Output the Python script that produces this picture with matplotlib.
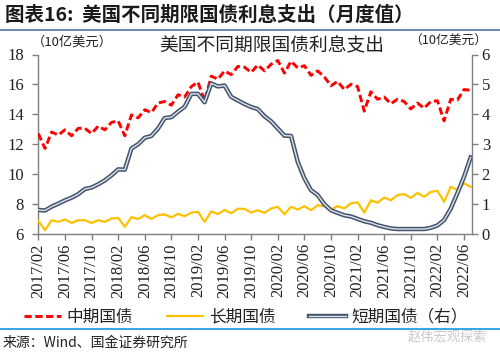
import matplotlib
matplotlib.use("Agg")
import matplotlib.pyplot as plt
from matplotlib.lines import Line2D
from matplotlib.legend_handler import HandlerTuple
import pandas as pd
import numpy as np

CJK = ["Noto Sans CJK SC", "DejaVu Sans"]
SERIF = ["Liberation Serif", "Noto Sans CJK SC"]

# ---- data (monthly, 2017/02 - 2022/07) ----
months = pd.date_range("2017-02-01", "2022-07-01", freq="MS").strftime("%Y/%m").tolist()

mid_term = [12.7, 11.7, 12.8, 12.6, 12.95, 12.55, 13.05, 13.05, 12.7, 13.2,
            12.95, 13.45, 13.55, 12.55, 13.95, 13.75, 14.3, 14.1, 14.75, 14.85,
            14.6, 15.3, 15.15, 15.85, 16.15, 14.9, 16.55, 16.35, 16.9, 16.65,
            17.2, 17.15, 16.8, 17.3, 16.9, 17.35, 17.6, 16.75, 17.55, 17.1,
            17.25, 16.6, 16.9, 16.5, 15.9, 16.2, 15.65, 16.0, 15.85, 14.2,
            15.5, 15.0, 15.15, 14.7, 15.0, 14.85, 14.35, 14.75, 14.4, 14.85,
            14.9, 13.55, 15.0, 14.95, 15.65, 15.6]

long_term = [6.85, 6.22, 6.89, 6.78, 6.94, 6.71, 6.89, 6.89, 6.71, 6.89,
             6.78, 7.0, 7.05, 6.45, 7.1, 6.97, 7.23, 6.97, 7.23, 7.28,
             7.08, 7.32, 7.16, 7.4, 7.45, 6.78, 7.48, 7.3, 7.58, 7.36,
             7.66, 7.65, 7.4, 7.56, 7.38, 7.68, 7.79, 7.29, 7.79, 7.61,
             7.83, 7.56, 7.9, 7.83, 7.61, 7.83, 7.68, 8.03, 8.09, 7.4,
             8.23, 8.06, 8.41, 8.23, 8.57, 8.64, 8.39, 8.72, 8.46, 8.79,
             8.86, 8.12, 9.13, 8.91, 9.36, 9.13]

short_term = [0.79, 0.77, 0.9, 1.0, 1.11, 1.2, 1.32, 1.49, 1.54, 1.65,
              1.78, 1.95, 2.15, 2.14, 2.85, 2.99, 3.21, 3.27, 3.52, 3.87,
              3.9, 4.08, 4.25, 4.68, 4.68, 4.4, 5.03, 4.93, 4.96, 4.58,
              4.46, 4.34, 4.24, 4.17, 3.93, 3.76, 3.52, 3.28, 3.27, 2.4,
              1.85, 1.45, 1.29, 0.98, 0.78, 0.69, 0.61, 0.57, 0.49, 0.41,
              0.36, 0.28, 0.22, 0.17, 0.15, 0.15, 0.15, 0.15, 0.15, 0.19,
              0.27, 0.45, 0.83, 1.35, 1.9, 2.55]

series_names = ["中期国债", "长期国债", "短期国债（右）"]
left_ticks = [6, 8, 10, 12, 14, 16, 18]
right_ticks = [0, 1, 2, 3, 4, 5, 6]

RED = "#FF0000"
YEL = "#FFC000"
BLUE_OUT = "#44546A"
BLUE_IN = "#DCE3EE"
AXC = "#7F7F7F"

W, H = 500, 356
fig = plt.figure(figsize=(W / 100, H / 100), dpi=100)
fig.patch.set_facecolor("white")

x = np.arange(len(months))
ax = fig.add_axes([38 / W, 1 - 233.5 / H, (472 - 38) / W, (233.5 - 54.5) / H])
ax2 = ax.twinx()

DASH = (0, (2.5, 1.2))
l_red, = ax.plot(x, mid_term, color=RED, lw=2.1, linestyle=DASH,
                 solid_capstyle="butt", dash_capstyle="butt", zorder=3)
l_yel, = ax.plot(x, long_term, color=YEL, lw=1.6, zorder=3)
l_bo, = ax2.plot(x, short_term, color=BLUE_OUT, lw=3.2, zorder=3)
l_bi, = ax2.plot(x, short_term, color=BLUE_IN, lw=1.0, zorder=4)

ax.set_xlim(-0.05, 65.2)
ax.set_ylim(6, 18)
ax2.set_ylim(0, 6)
ax.set_yticks(left_ticks)
ax2.set_yticks(right_ticks)
ax.set_xticks(x[::4])
ax.set_xticklabels([months[i] for i in x[::4]], rotation=90)

for a in (ax, ax2):
    a.set_facecolor("none")
    a.spines["top"].set_visible(False)
    for s in ("left", "right", "bottom"):
        a.spines[s].set_color(AXC)
        a.spines[s].set_linewidth(1.0)
    a.tick_params(colors=AXC, labelcolor="#222222", length=4, width=1.0,
                  direction="out", labelsize=12)
ax.spines["right"].set_visible(False)
ax2.spines["left"].set_visible(False)
ax2.spines["bottom"].set_visible(False)
ax.tick_params(axis="y", pad=6)
ax.tick_params(axis="x", pad=3)
ax2.tick_params(axis="y", pad=3)
for lab in ax.get_xticklabels() + ax.get_yticklabels() + ax2.get_yticklabels():
    lab.set_fontfamily(SERIF)

# texts
fig.text(5 / W, 1 - 15 / H, "图表16:  美国不同期限国债利息支出（月度值）",
         fontsize=14, fontweight="bold", family=CJK, color="#1a1a1a",
         va="center", ha="left")
fig.add_artist(Line2D([0, 1], [1 - 29.5 / H, 1 - 29.5 / H],
                      color="#5B7FA6", lw=1.3, transform=fig.transFigure))
fig.text(272 / W, 1 - 45.5 / H, "美国不同期限国债利息支出", fontsize=13.5,
         family=CJK, color="#222222", ha="center", va="center")
fig.text(72 / W, 1 - 42 / H, "（10亿美元）", fontsize=9.5, family=CJK,
         color="#222222", ha="center", va="center")
fig.text(448 / W, 1 - 41 / H, "（10亿美元）", fontsize=9.2, family=CJK,
         color="#222222", ha="center", va="center")

# legend
h_blue = (Line2D([], [], color=BLUE_OUT, lw=3.2), Line2D([], [], color=BLUE_IN, lw=1.0))
h_red = Line2D([], [], color=RED, lw=2.1, linestyle=DASH)
h_yel = Line2D([], [], color=YEL, lw=1.6)
leg = fig.legend([h_red, h_yel, h_blue], series_names, loc="center",
                 bbox_to_anchor=(246 / W, 1 - 317 / H), ncol=3, frameon=False,
                 prop={"family": CJK, "size": 12}, handlelength=2.2,
                 handletextpad=0.35, columnspacing=2.0,
                 handler_map={tuple: HandlerTuple(ndivide=1, pad=0)})
for t in leg.get_texts():
    t.set_color("#222222")

fig.add_artist(Line2D([0, 1], [1 - 328.5 / H, 1 - 328.5 / H],
                      color="#3AA6E3", lw=1.5, transform=fig.transFigure))
fig.text(3 / W, 1 - 343 / H, "来源：Wind、国金证券研究所", fontsize=10,
         family=CJK, color="#222222", ha="left", va="center")
fig.text(447 / W, 1 - 337 / H, "赵伟宏观探索", fontsize=9.5, family=CJK,
         color="#C8C8C8", ha="center", va="center")

fig.savefig("out.png", dpi=100, facecolor="white")
